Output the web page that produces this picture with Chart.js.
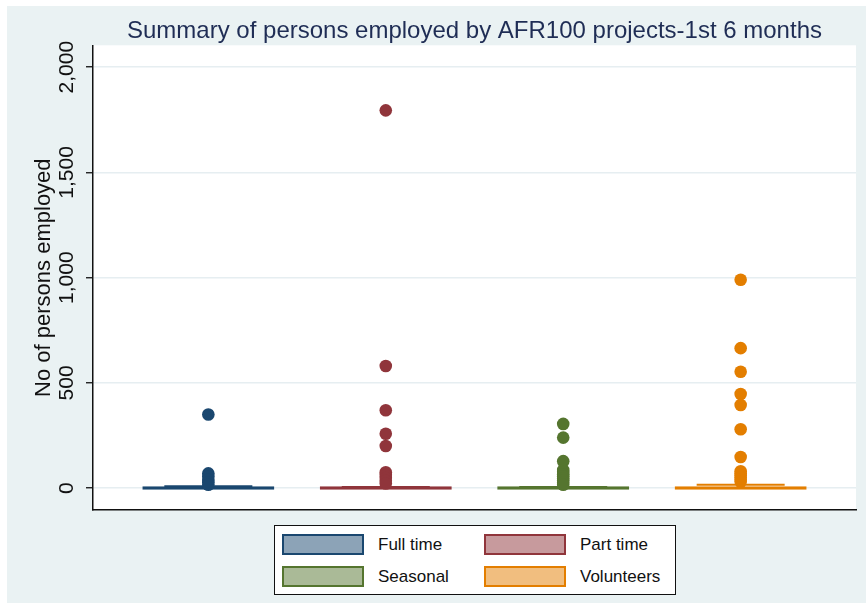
<!DOCTYPE html>
<html>
<head>
<meta charset="utf-8">
<script src="https://cdn.jsdelivr.net/npm/chart.js@4/dist/chart.umd.min.js"></script>
<style>
    html, body { margin: 0; padding: 0; background: #ffffff; }
    #panel { position: absolute; left: 7px; top: 6px; width: 859px; height: 597px; background: #eaf2f3; }
    #wrap { position: absolute; left: 0; top: 0; width: 866px; height: 603px; }
    #legend {
        position: absolute; left: 274px; top: 525px; width: 393px; height: 60px;
        padding: 8px 0 0 7px;
        border: 1px solid #111; background: #ffffff; box-sizing: content-box;
        display: grid; grid-template-columns: 82px 92px 82px auto; grid-template-rows: 21px 21px;
        column-gap: 14px; row-gap: 11px; align-items: center;
        font-family: "Liberation Sans", Arial, sans-serif; font-size: 17px; color: #111;
    }
    #legend .sw { box-sizing: border-box; width: 82px; height: 21px; border: 2px solid; }
</style>
</head>
<body>
<div id="panel"></div>
<div id="wrap"><canvas id="chart" width="866" height="603"></canvas></div>
<div id="legend"></div>
<script>
// groups shown on the x axis (placed at 0..3)
const categories = ['Full time', 'Part time', 'Seasonal', 'Volunteers'];
const lineColors = ['#1a476f', '#90353b', '#55752f', '#e37e00'];
const fillColors = ['#8ca3b7', '#c79a9d', '#aaba97', '#f1be7f'];

// box (q1..q3) and upper adjacent value per group
const boxLow = [0, 0, 0, 0];
const boxHigh = [2, 2, 2, 12];
const upperAdjacent = [14, 10, 10, 21];

// outside values per group
const outFullTime = [350, 70, 55, 40, 28, 16];
const outPartTime = [1795, 580, 370, 258, 200, 75, 62, 48, 35, 22];
const outSeasonal = [305, 240, 128, 86, 76, 66, 56, 46, 36, 26, 16];
const outVolunteers = [990, 665, 553, 447, 395, 280, 148, 80, 70, 60, 50, 40, 30];
const outliers = [outFullTime, outPartTime, outSeasonal, outVolunteers];

const yTicks = [0, 500, 1000, 1500, 2000];
const yLabels = ['0', '500', '1,000', '1,500', '2,000'];

const FONT = '"Liberation Sans", Arial, sans-serif';

// legend (two columns, as in the Stata graph)
document.getElementById('legend').innerHTML = categories.map((name, i) =>
    `<div class="sw" style="background:${fillColors[i]};border-color:${lineColors[i]};"></div><div>${name}</div>`
).join('');

const whitePlot = {
    id: 'whitePlot',
    beforeDraw(chart) {
        const { ctx, chartArea: a } = chart;
        ctx.save();
        ctx.fillStyle = '#ffffff';
        ctx.fillRect(a.left, a.top, a.right - a.left, a.bottom - a.top);
        ctx.restore();
    }
};

const pointSets = outliers.map((vals, i) => ({
    type: 'scatter',
    label: categories[i] + ' outside values',
    data: vals.map((v) => ({ x: i, y: v })),
    pointRadius: 6.3,
    pointBorderWidth: 0,
    pointBackgroundColor: lineColors[i],
    order: 0
}));

new Chart(document.getElementById('chart').getContext('2d'), {
    type: 'bar',
    data: {
        datasets: [
            ...pointSets,
            {
                label: 'box',
                data: categories.map((c, i) => ({ x: i, y: [boxLow[i], boxHigh[i]] })),
                backgroundColor: fillColors,
                borderColor: lineColors,
                borderWidth: 2,
                borderSkipped: false,
                minBarLength: 3.5,
                grouped: false,
                categoryPercentage: 1,
                barPercentage: 0.744,
                order: 2
            },
            {
                label: 'upper adjacent',
                data: categories.map((c, i) => ({ x: i, y: [upperAdjacent[i], upperAdjacent[i]] })),
                backgroundColor: lineColors,
                borderWidth: 0,
                minBarLength: 2,
                grouped: false,
                categoryPercentage: 1,
                barPercentage: 0.496,
                order: 1
            }
        ]
    },
    options: {
        responsive: false,
        animation: false,
        layout: { padding: { left: 0, right: 10, top: 0, bottom: 93 } },
        plugins: {
            legend: { display: false },
            tooltip: { enabled: false },
            title: {
                display: true,
                text: 'Summary of persons employed by AFR100 projects-1st 6 months',
                fullSize: false,
                color: '#1f2d55',
                font: { family: FONT, size: 24, weight: 'normal' },
                padding: { top: 16.5, bottom: 0 }
            }
        },
        scales: {
            x: {
                type: 'linear',
                offset: false,
                min: -0.65,
                max: 3.65,
                afterBuildTicks(scale) { scale.ticks = categories.map((c, i) => ({ value: i })); },
                ticks: { display: false },
                grid: { display: false },
                border: { display: true, color: '#111', width: 1.5 },
                afterFit(scale) { scale.height = 0; }
            },
            y: {
                type: 'linear',
                min: -104,
                max: 2104,
                afterBuildTicks(scale) { scale.ticks = yTicks.map((v) => ({ value: v })); },
                ticks: {
                    autoSkip: false,
                    minRotation: 90,
                    maxRotation: 90,
                    crossAlign: 'center',
                    padding: -7,
                    color: '#111',
                    font: { family: FONT, size: 21 },
                    callback: (v) => yLabels[yTicks.indexOf(v)]
                },
                grid: { color: '#e6eef1', lineWidth: 1.5, tickLength: 7, tickColor: '#111', tickWidth: 1.3 },
                border: { display: true, color: '#111', width: 1.5 },
                title: {
                    display: true,
                    text: 'No of persons employed',
                    color: '#111',
                    font: { family: FONT, size: 22 },
                    padding: { top: 31, bottom: 0 }
                },
                afterFit(scale) { scale.width = 93; }
            }
        }
    },
    plugins: [whitePlot]
});
</script>
</body>
</html>
